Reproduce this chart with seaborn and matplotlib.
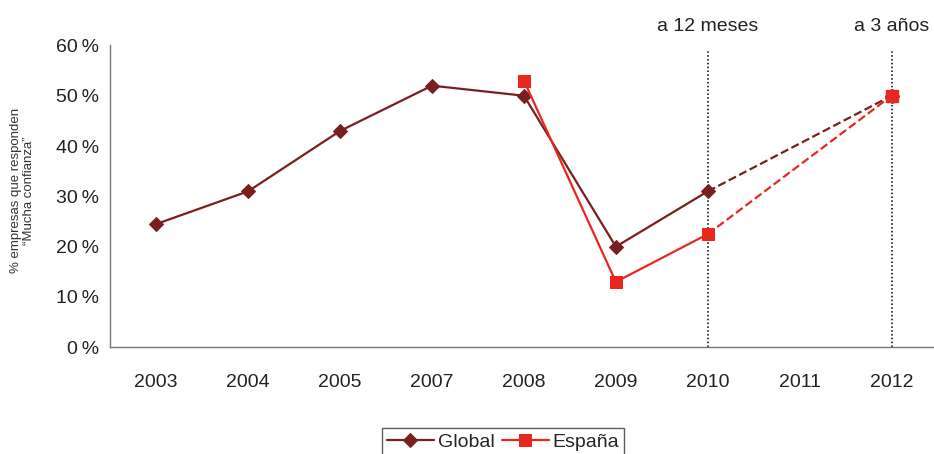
import pandas as pd
import numpy as np
import matplotlib.pyplot as plt
import seaborn as sns

years = ["2003", "2004", "2005", "2007", "2008", "2009", "2010", "2011", "2012"]
global_years = ["2003", "2004", "2005", "2007", "2008", "2009", "2010"]
global_vals = [24.5, 31, 43, 52, 50, 20, 31]
espana_years = ["2008", "2009", "2010"]
espana_vals = [53, 13, 22.5]
proj_years = ["2010", "2012"]
global_proj = [31, 50]
espana_proj = [22.5, 50]
yticks = [0, 10, 20, 30, 40, 50, 60]

c_global = "#7a1f1f"
c_espana = "#e8281f"

sns.set_theme(style="white")
plt.rcParams["font.family"] = ["Liberation Sans", "DejaVu Sans"]

pos = {y: i for i, y in enumerate(years)}
df_g = pd.DataFrame({"x": [pos[y] for y in global_years], "v": global_vals})
df_e = pd.DataFrame({"x": [pos[y] for y in espana_years], "v": espana_vals})
df_gp = pd.DataFrame({"x": [pos[y] for y in proj_years], "v": global_proj})
df_ep = pd.DataFrame({"x": [pos[y] for y in proj_years], "v": espana_proj})

fig, ax = plt.subplots(figsize=(9.34, 4.54), dpi=100)
fig.subplots_adjust(left=0.118, right=0.999, top=0.9, bottom=0.235)

# proyecciones (discontinuas)
sns.lineplot(data=df_gp, x="x", y="v", ax=ax, color=c_global, linestyle="--", lw=1.6)
sns.lineplot(data=df_ep, x="x", y="v", ax=ax, color=c_espana, linestyle="--", lw=1.6)

# lineas verticales de referencia
for yr, lab in [("2010", "a 12 meses"), ("2012", "a 3 años")]:
    ax.axvline(pos[yr], ymin=0, ymax=0.985, color="black", linestyle=(0, (1, 1.5)), lw=1.1, zorder=1)
    ax.text(pos[yr], 63.7, lab, ha="center", va="center", fontsize=14, color="#222222")

sns.lineplot(data=df_g, x="x", y="v", ax=ax, color=c_global, marker="D", markersize=7,
             markeredgecolor=c_global, lw=1.6, label="Global")
sns.lineplot(data=df_e, x="x", y="v", ax=ax, color=c_espana, marker="s", markersize=8,
             markeredgecolor=c_espana, lw=1.6, label="España")
ax.plot(pos["2012"], 50, marker="D", color=c_global, markersize=7)
ax.plot(pos["2012"], 50, marker="s", color=c_espana, markersize=8)

ax.set_xlim(-0.5, 8.45)
ax.set_ylim(0, 60)
ax.set_xticks(range(len(years)))
ax.set_xticklabels(years, fontsize=14, color="#222222")
ax.set_yticks(yticks)
ax.set_yticklabels([f"{t}\u2009%" for t in yticks], fontsize=14, color="#222222")
ax.tick_params(axis="x", length=0, pad=19)
ax.tick_params(axis="y", length=0, pad=8)
ax.set_xlabel("")
ax.set_ylabel("% empresas que responden\n\u201cMucha confianza\u201d", fontsize=9.5,
              color="#333333", linespacing=1.15)
ax.yaxis.set_label_coords(-0.091, 0.52)

for s in ["top", "right"]:
    ax.spines[s].set_visible(False)
for s in ["left", "bottom"]:
    ax.spines[s].set_color("#777777")
    ax.spines[s].set_linewidth(1)

leg = ax.legend(loc="upper center", bbox_to_anchor=(0.4775, -0.268), ncol=2, fontsize=14,
                frameon=True, fancybox=False, edgecolor="#333333", handlelength=2.4,
                handletextpad=0.2, columnspacing=0.4, borderpad=0.25, borderaxespad=0)
leg.get_frame().set_linewidth(1)

fig.savefig("out.png", dpi=100)
